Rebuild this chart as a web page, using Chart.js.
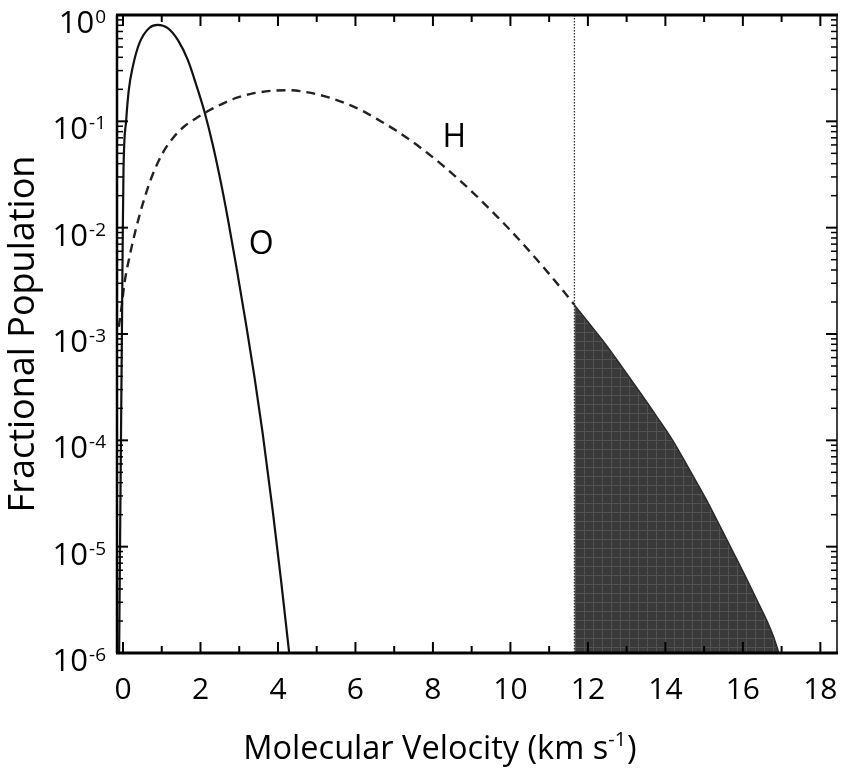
<!DOCTYPE html>
<html><head><meta charset="utf-8">
<script src="https://cdn.jsdelivr.net/npm/chart.js@4.4.1/dist/chart.umd.min.js"></script>
<style>html,body{margin:0;padding:0;background:#fff}#wrap{width:843px;height:776px}</style>
</head><body><div id="wrap"><canvas id="c" width="843" height="776"></canvas></div>
<script>
// ---- data ----
const oVelocity   = [-0.1, -0.005, 0.013, 0.083, 0.15, 0.253, 0.426, 0.684, 0.898, 1.156, 1.414, 1.672, 1.889, 2.103, 2.317, 2.534, 2.705, 2.921, 3.179, 3.394, 3.6, 3.866, 4.083, 4.29];
const oPopulation = [1e-6, 0.00955, 0.035, 0.1033, 0.198, 0.327, 0.547, 0.759, 0.809, 0.753, 0.583, 0.378, 0.221, 0.123, 0.0603, 0.0258, 0.0122, 0.0044, 0.00122, 0.000393, 0.00012, 2.16e-5, 4.7e-6, 1e-6];
const hVelocity   = [-0.108, -0.046, 0.039, 0.168, 0.341, 0.555, 0.769, 1.027, 1.285, 1.587, 1.889, 2.232, 2.575, 2.921, 3.35, 3.866, 4.297, 4.813, 5.329, 5.76, 6.188, 6.619, 7.05, 7.479, 7.825, 8.253, 8.599, 8.942, 9.285, 9.631, 9.974, 10.317, 10.663, 11.006, 11.35, 11.652];
const hPopulation = [0.00117, 0.00169, 0.00303, 0.00533, 0.00998, 0.019, 0.0318, 0.0505, 0.0695, 0.0899, 0.107, 0.127, 0.147, 0.166, 0.183, 0.194, 0.196, 0.186, 0.167, 0.147, 0.125, 0.102, 0.0818, 0.064, 0.0514, 0.0385, 0.0299, 0.023, 0.0174, 0.013, 0.00966, 0.00708, 0.0051, 0.00365, 0.00258, 0.00188];
const escapeVelocity   = [11.652, 12.039, 12.47, 12.898, 13.329, 13.76, 14.188, 14.619, 15.05, 15.479, 15.91, 16.341, 16.769, 16.93];
const escapePopulation = [0.00188, 0.00125, 0.000791, 0.00048, 0.000288, 0.000171, 1e-4, 5.33e-5, 2.8e-5, 1.39e-5, 6.82e-6, 3.27e-6, 1.5e-6, 1e-6];
const escapeLimitVelocity = [11.652, 11.652];
const escapeLimitPopulation = [1, 1e-6];
const xTickValues = [0, 2, 4, 6, 8, 10, 12, 14, 16, 18];
const yTickValues = [1e-6, 1e-5, 1e-4, 1e-3, 1e-2, 1e-1, 1];
const seriesNames = ['H', 'O'];
const seriesNameVelocity = [8.55, 3.57];
const seriesNamePopulation = [0.07, 0.0069];
const xTitleParts = ['Molecular Velocity (km s', '-1', ')'];
const yTitle = 'Fractional Population';

// ---- chart ----
const FONT = '"Open Sans", "DejaVu Sans", sans-serif';
const pts = (xs, ys) => xs.map((x, i) => ({x, y: ys[i]}));

const ctx = document.getElementById('c').getContext('2d');
const pc = document.createElement('canvas'); pc.width = 9; pc.height = 9;
const pg = pc.getContext('2d');
pg.fillStyle = '#3a3a3a'; pg.fillRect(0, 0, 9, 9);
pg.fillStyle = '#525252'; pg.fillRect(0, 8, 9, 1); pg.fillRect(8, 0, 1, 9);
const shadePattern = ctx.createPattern(pc, 'repeat');

Chart.defaults.color = '#000';
Chart.defaults.font.family = FONT;

const framePlugin = {
  id: 'frame',
  afterDraw(chart) {
    const {ctx, chartArea: a, scales: {x, y}} = chart;
    ctx.save();
    ctx.strokeStyle = '#000';
    ctx.lineWidth = 2;
    for (let v = 0; v <= 18; v++) {
      const px = x.getPixelForValue(v);
      const len = v % 2 === 0 ? 11 : 7;
      ctx.beginPath(); ctx.moveTo(px, a.bottom); ctx.lineTo(px, a.bottom - len); ctx.stroke();
      ctx.beginPath(); ctx.moveTo(px, a.top); ctx.lineTo(px, a.top + len); ctx.stroke();
    }
    for (let k = -6; k <= 0; k++) {
      for (let m = 1; m <= 9; m++) {
        const val = m * Math.pow(10, k);
        if (val > y.max * 1.0001) continue;
        const py = y.getPixelForValue(val);
        const len = m === 1 ? 11 : 6;
        ctx.lineWidth = m === 1 ? 2 : 1.5;
        ctx.beginPath(); ctx.moveTo(a.left, py); ctx.lineTo(a.left + len, py); ctx.stroke();
        ctx.beginPath(); ctx.moveTo(a.right, py); ctx.lineTo(a.right - len, py); ctx.stroke();
      }
    }
    ctx.lineWidth = 3;
    ctx.beginPath(); ctx.moveTo(a.left - 1, a.bottom); ctx.lineTo(a.right + 1, a.bottom); ctx.stroke();
    ctx.beginPath(); ctx.moveTo(a.left - 1, a.top); ctx.lineTo(a.right + 1, a.top); ctx.stroke();
    ctx.lineWidth = 2.5;
    ctx.beginPath(); ctx.moveTo(a.left, a.top); ctx.lineTo(a.left, a.bottom); ctx.stroke();
    ctx.lineWidth = 1.5;
    ctx.beginPath(); ctx.moveTo(a.right, a.top); ctx.lineTo(a.right, a.bottom); ctx.stroke();

    ctx.fillStyle = '#000';
    // y tick labels: "10" with raised exponent
    ctx.textBaseline = 'alphabetic';
    ctx.textAlign = 'right';
    yTickValues.forEach(v => {
      const e = String(Math.round(Math.log10(v)));
      const base = y.getPixelForValue(v) + 18;
      ctx.font = '19px ' + FONT;
      const ew = ctx.measureText(e).width;
      ctx.fillText(e, 106, base - 10);
      ctx.font = '31px ' + FONT;
      ctx.fillText('10', 106 - ew - 1, base);
    });
    // series names
    ctx.textAlign = 'center'; ctx.textBaseline = 'middle';
    ctx.font = '32px ' + FONT;
    seriesNames.forEach((t, i) => {
      ctx.fillText(t, x.getPixelForValue(seriesNameVelocity[i]), y.getPixelForValue(seriesNamePopulation[i]));
    });
    // x title with superscript
    ctx.textAlign = 'left'; ctx.textBaseline = 'alphabetic';
    const mainF = '32.5px ' + FONT, supF = '20px ' + FONT;
    ctx.font = mainF; const w0 = ctx.measureText(xTitleParts[0]).width, w2 = ctx.measureText(xTitleParts[2]).width;
    ctx.font = supF; const w1 = ctx.measureText(xTitleParts[1]).width;
    let tx = 440 - (w0 + w1 + 1 + w2) / 2;
    const base = 759;
    ctx.font = mainF; ctx.fillText(xTitleParts[0], tx, base); tx += w0;
    ctx.font = supF; ctx.fillText(xTitleParts[1], tx, base - 13); tx += w1 + 1;
    ctx.font = mainF; ctx.fillText(xTitleParts[2], tx, base);
    ctx.restore();
  }
};

new Chart(ctx, {
  type: 'line',
  data: {
    datasets: [
      {label: 'escape', data: pts(escapeVelocity, escapePopulation), borderColor: '#2a2a2a', borderWidth: 1.5,
       backgroundColor: shadePattern, fill: 'start', pointRadius: 0, cubicInterpolationMode: 'monotone', order: 1},
      {label: 'O', data: pts(oVelocity, oPopulation), borderColor: '#111', borderWidth: 2.2,
       fill: false, pointRadius: 0, cubicInterpolationMode: 'monotone', order: 2},
      {label: 'H', data: pts(hVelocity, hPopulation), borderColor: '#222', borderWidth: 2.4, borderDash: [9, 6],
       fill: false, pointRadius: 0, cubicInterpolationMode: 'monotone', order: 2},
      {label: 'limit', data: pts(escapeLimitVelocity, escapeLimitPopulation), borderColor: '#333', borderWidth: 1.3,
       borderDash: [1.5, 1.5], fill: false, pointRadius: 0, order: 3}
    ]
  },
  options: {
    responsive: false, animation: false, devicePixelRatio: 1,
    layout: {padding: {top: 15, right: 6, bottom: 0, left: 0}},
    plugins: {legend: {display: false}, tooltip: {enabled: false}},
    scales: {
      x: {
        type: 'linear', min: -0.155, max: 18.43,
        grid: {display: false, drawTicks: false}, border: {display: false},
        afterBuildTicks: s => { s.ticks = xTickValues.map(v => ({value: v})); },
        ticks: {padding: 19, font: {size: 30}, color: '#000', maxRotation: 0, autoSkip: false},
        afterFit: s => { s.height = 123; s.paddingLeft = 0; s.paddingRight = 0; }
      },
      y: {
        type: 'logarithmic', min: 1e-6, max: 1,
        grid: {display: false, drawTicks: false}, border: {display: false},
        afterBuildTicks: s => { s.ticks = yTickValues.map(v => ({value: v})); },
        ticks: {display: false},
        title: {display: true, text: yTitle, font: {size: 36}, color: '#000', padding: {top: 2, bottom: 0}},
        afterFit: s => { s.width = 117; s.paddingTop = 0; s.paddingBottom = 0; }
      }
    }
  },
  plugins: [framePlugin]
});
</script>
</body></html>
